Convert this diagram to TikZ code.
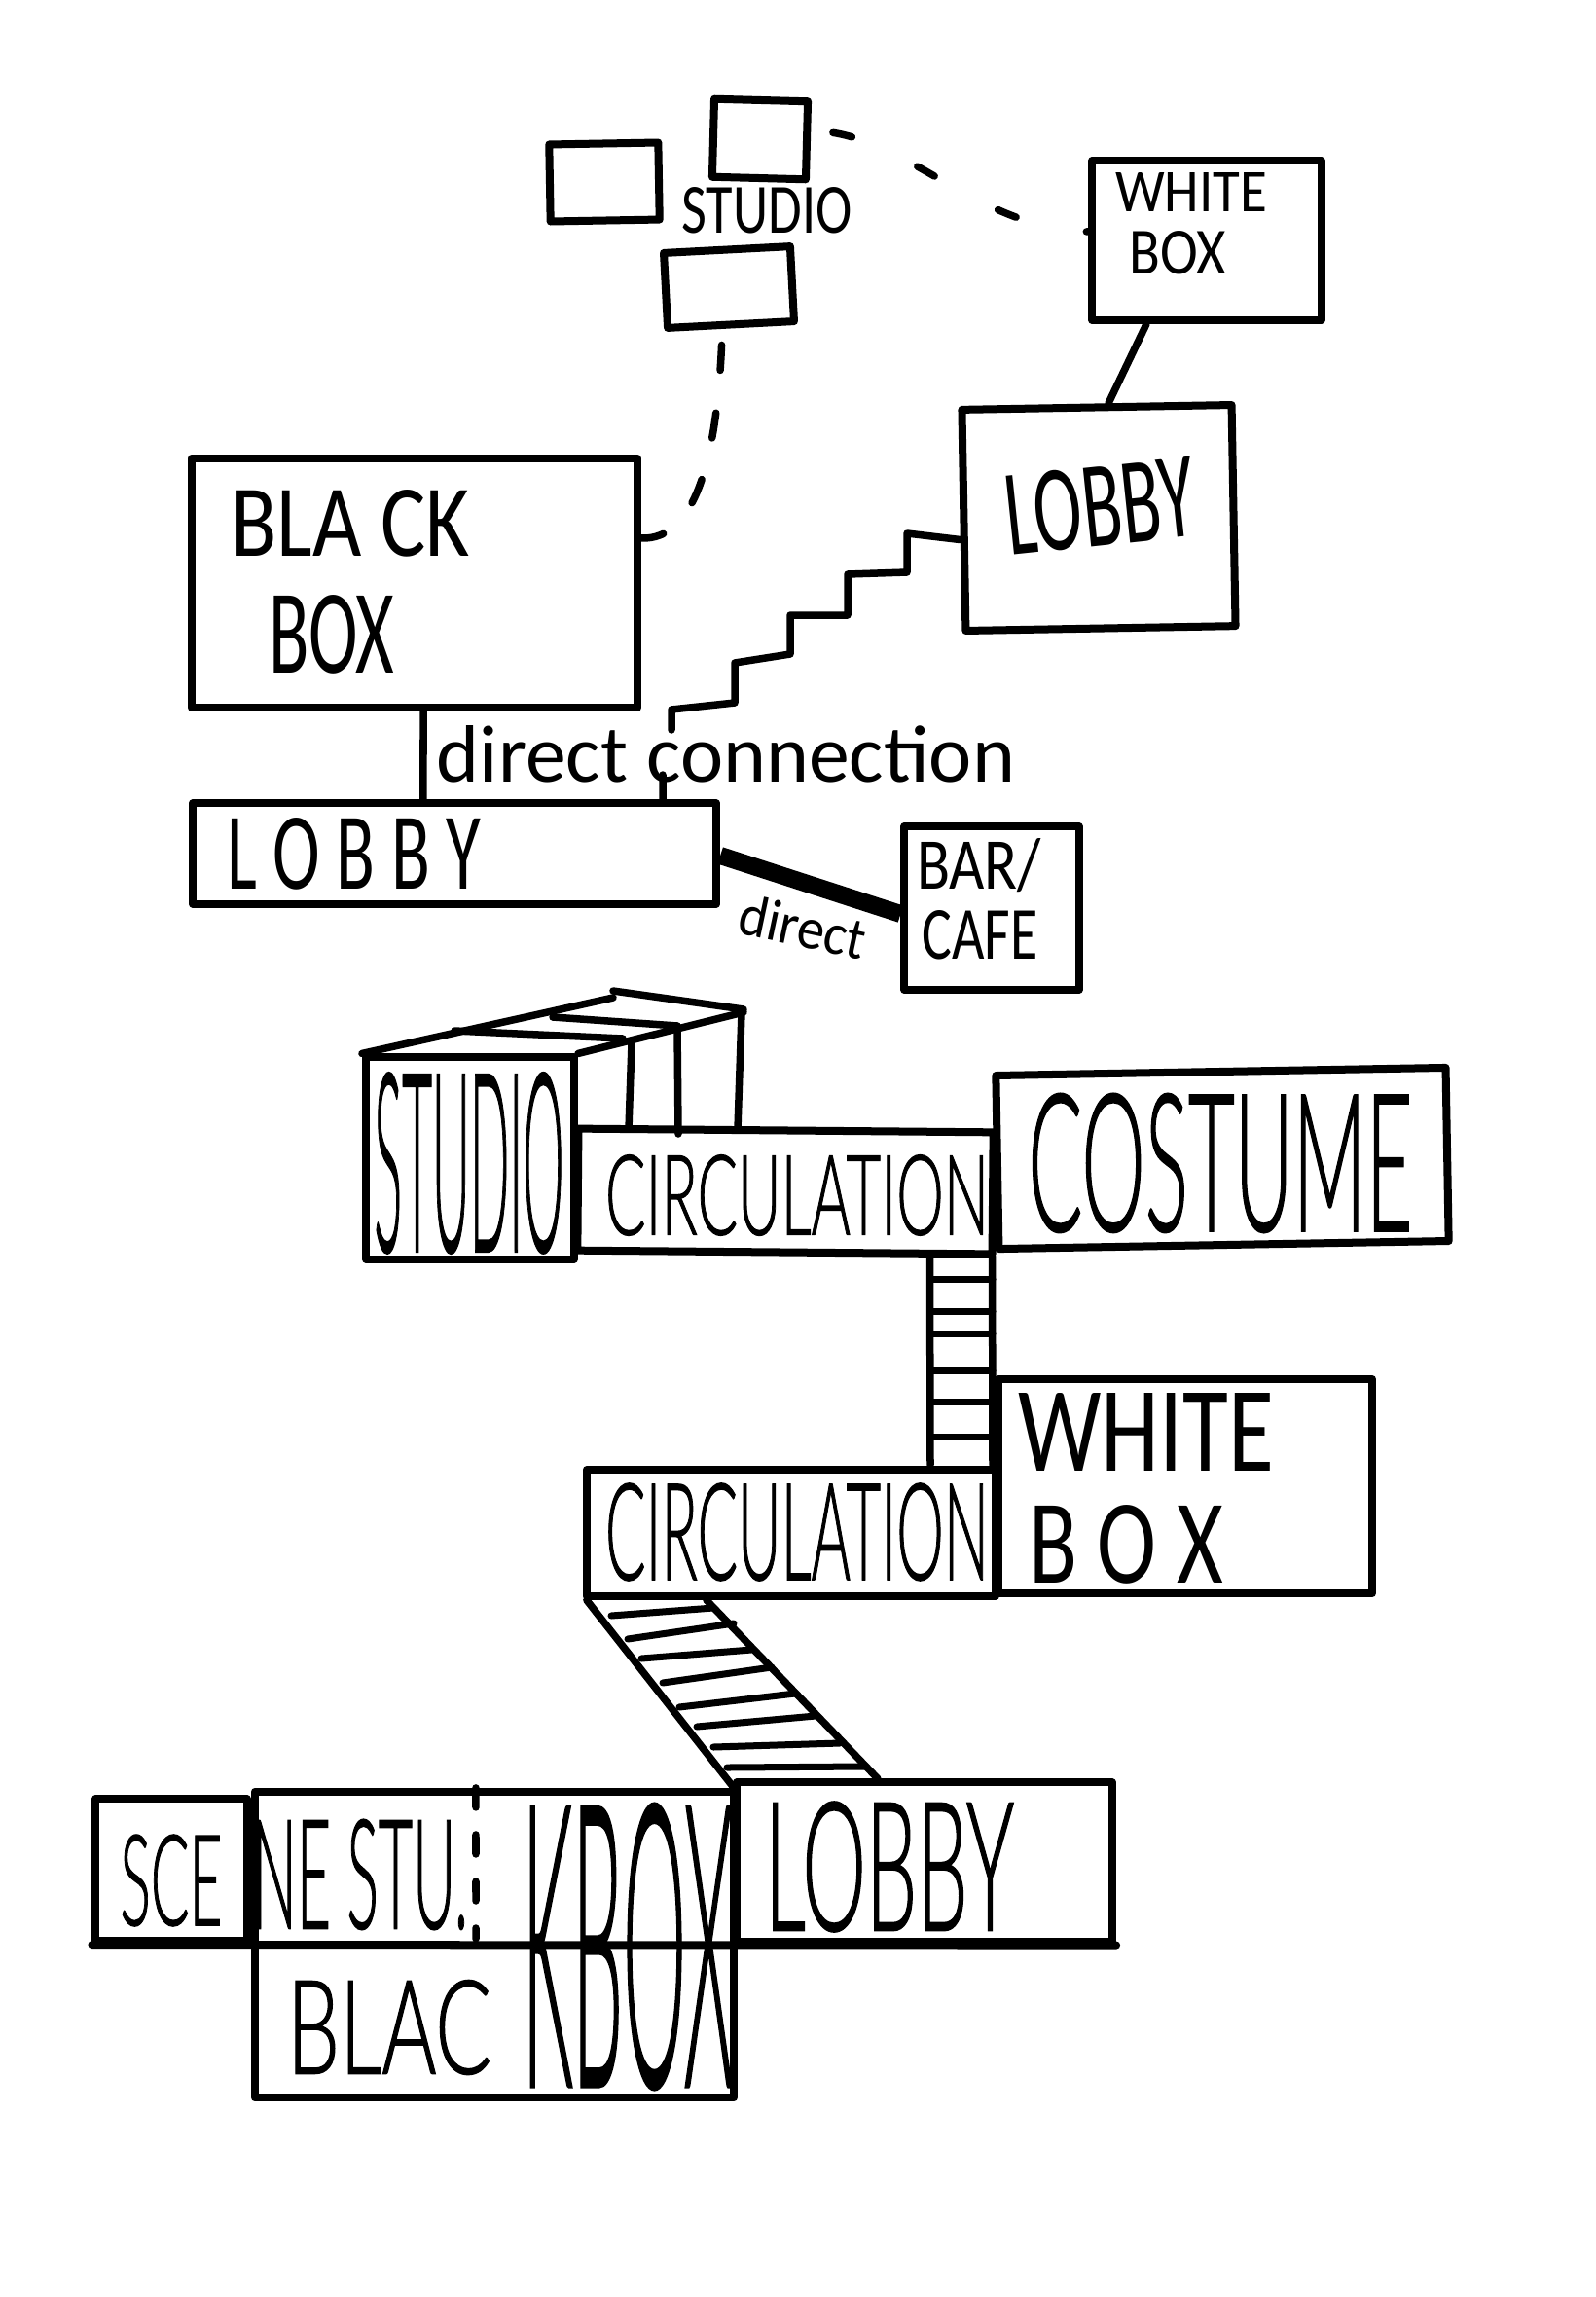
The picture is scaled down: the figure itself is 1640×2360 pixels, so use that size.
\documentclass[tikz,border=0pt]{standalone}
\usepackage{graphicx}
\usepackage{fontspec}
\setmainfont{Carlito}
\newfontfamily\lightfont[FakeBold=1.2]{Lato Light}
\newdimen\pxunit
\pxunit=.01cm
\newcommand{\fitText}[3]{\resizebox{#1\pxunit}{#2\pxunit}{#3}}
\newcommand{\fitLight}[3]{\resizebox{#1\pxunit}{#2\pxunit}{\lightfont #3}}
\tikzset{
  room/.style={draw,line width=.08cm,line join=round,inner sep=0pt},
  label/.style={inner sep=0pt},
  wire/.style={line width=.075cm,line cap=round,line join=round},
  rung/.style={line width=.07cm,line cap=round}
}

\begin{document}
\begin{tikzpicture}[x=.01cm,y=-.01cm]
  \useasboundingbox (0,0) rectangle (1640,2360);
  % top group
  \node[room,minimum width=1.12cm,minimum height=.79cm,rotate=1] (studioA) at (621,187) {};
  \node[room,minimum width=.96cm,minimum height=.8cm,rotate=-1.5] (studioB) at (781,143) {};
  \node[room,minimum width=1.3cm,minimum height=.77cm,rotate=3] (studioC) at (749,295) {};
  \node[label] (studioTxt) at (788,216) {\fitText{175}{47}{STUDIO}};
  \node[room,minimum width=2.35cm,minimum height=1.64cm] (whiteBox) at (1240,247) {};
  \node[label] (whiteTxt) at (1224,197) {\fitText{156}{40}{WHITE}};
  \node[label] (boxTxt) at (1210,260) {\fitText{99}{44}{BOX}};
  \node[room,minimum width=2.77cm,minimum height=2.27cm,rotate=1] (lobbyUp) at (1129,532) {};
  \node[label,rotate=6] (lobbyUpTxt) at (1130,520) {\fitText{195}{82}{LOBBY}};
  \node[room,minimum width=4.58cm,minimum height=2.56cm] (blackBox) at (426,599) {};
  \node[label] (blackTxt) at (360,538) {\fitText{245}{68}{BLA CK}};
  \node[label] (boxBigTxt) at (341,652) {\fitText{129}{80}{BOX}};
  \node[room,minimum width=5.38cm,minimum height=1.03cm] (lobbyLow) at (467,877) {};
  \node[label] (lobbyLowTxt) at (364,877) {\fitText{261}{73}{L O B B Y}};
  \node[room,minimum width=1.79cm,minimum height=1.68cm] (barCafe) at (1019,933) {};
  \node[label] (barTxt) at (1006,889) {\fitText{128}{52}{BAR/}};
  \node[label] (cafeTxt) at (1007,961) {\fitText{119}{50}{CAFE}};

  \draw[wire,dash pattern=on .2cm off .74cm,dash phase=.71cm] ([yshift=.1cm]studioB.east) .. controls (930,135) and (1000,235) .. ([yshift=.09cm]whiteBox.west);
  \draw[wire,dash pattern=on .26cm off .44cm,dash phase=.53cm] ([xshift=-.09cm]studioC.south) .. controls (738,470) and (715,555) .. ([yshift=.46cm]blackBox.east);
  \draw[wire] ([xshift=-.62cm]whiteBox.south) -- ([xshift=.12cm]lobbyUp.north);
  \draw[wire] ([xshift=.09cm]blackBox.south) -- ([xshift=-.32cm]lobbyLow.north);
  \draw[line width=.18cm] ([yshift=-.02cm]lobbyLow.east) -- ([yshift=-.06cm]barCafe.west);
  \coordinate (stairA) at (681,796);
  \coordinate (stairB) at (690,750);
  \draw[wire] ([xshift=2.14cm]lobbyLow.north) -- (stairA);
  \draw[wire] (stairB) -- (690,729) -- (755,722) -- (755,681) -- (812,672) -- (812,632) -- (871,632)
     -- (871,590) -- (932,588) -- (932,548) -- ([yshift=-.2cm]lobbyUp.west);
  \node[label] (directTxt) at (746,775) {\fitText{594}{58}{direct connection}};
  \node[label,rotate=-12] (directSmallTxt) at (825,952) {\fitText{132}{42}{direct}};

  % middle group
  \node[room,minimum width=2.14cm,minimum height=2.07cm] (studioBig) at (483,1190) {};
  \draw[wire] (studioBig.north west) -- (630,1025);
  \draw[wire] (630,1018) -- (764,1037);
  \draw[wire] (studioBig.north east) -- (764,1040);
  \draw[wire] (467,1059) -- (640,1067);
  \draw[wire] (568,1045) -- (696,1054);
  \node[room,minimum width=4.26cm,minimum height=1.25cm,rotate=-.5] (circA) at (807,1224) {};
  \draw[wire] (649,1072) -- (646,1160);
  \draw[wire] (696,1054) -- (697,1165);
  \draw[wire] (762,1040) -- (758,1160);
  \node[room,minimum width=4.62cm,minimum height=1.78cm,rotate=1] (costume) at (1256,1190) {};
  \draw[wire] ([xshift=1.49cm]circA.south) -- (956,1505);
  \draw[wire] ([xshift=2.13cm]circA.south) -- (1020,1505);
  \foreach \y in {1314,1347,1370,1408,1440,1476}
    \draw[rung] (956,\y) -- (1020,\y);
  \node[room,minimum width=3.84cm,minimum height=2.2cm] (whiteBig) at (1218,1527) {};
  \node[label] (whiteBigTxt) at (1178,1471) {\fitText{263}{80}{WHITE}};
  \node[label] (boxWhiteTxt) at (1157,1587) {\fitText{200}{80}{B O X}};
  \node[room,minimum width=4.2cm,minimum height=1.3cm] (circB) at (813,1575) {};

  % bottom group
  \node[room,minimum width=1.55cm,minimum height=1.46cm] (scene) at (176,1921) {};
  \node[room,minimum width=4.92cm,minimum height=3.14cm] (blackLow) at (508,1998) {};
  \node[room,minimum width=3.86cm,minimum height=1.63cm] (lobbyEnd) at (950,1913) {};
  \draw[wire] ([xshift=-2.1cm]circB.south) -- ([xshift=2.46cm]blackLow.north);
  \draw[wire] ([xshift=-.87cm]circB.south) -- ([xshift=-.48cm]lobbyEnd.north);
  \foreach \xa/\ya/\xb/\yb in {628/1660/733/1652,645/1684/754/1668,659/1704/772/1695,681/1729/793/1713,
      698/1754/817/1740,716/1774/838/1763,733/1795/863/1791,747/1816/888/1815}
    \draw[rung] (\xa,\ya) -- (\xb,\yb);
  \draw[line width=.08cm,line cap=round] (scene.south west) -- (lobbyEnd.south east);
  \draw[wire,dash pattern=on .2cm off .28cm] ([xshift=-.19cm]blackLow.north) -- (489,1992);

  % tall labels
  \node[label] (circATxt) at (819,1228) {\fitLight{394}{82}{CIRCULATION}};
  \node[label] (circBTxt) at (819,1574) {\fitLight{394}{99}{CIRCULATION}};
  \node[label] (sceTxt) at (176,1932) {\fitLight{105}{93}{SCE}};
  \node[label] (neStuTxt) at (370,1926) {\fitLight{222}{112}{NE STU.}};
  \node[label] (blacTxt) at (400,2083) {\fitLight{210}{96}{BLAC}};
  \node[label] (lobbyEndTxt) at (914,1918) {\fitLight{256}{132}{LOBBY}};
  \node[label] (studioBigTxt) at (482,1195) {\fitLight{195}{183}{STUDIO}};
  \node[label] (costumeTxt) at (1254,1195) {\fitLight{395}{141}{COSTUME}};
  \node[label] (kBoxTxt) at (645,2000) {\fitLight{217}{289}{KBOX}};
\end{tikzpicture}
\end{document}
